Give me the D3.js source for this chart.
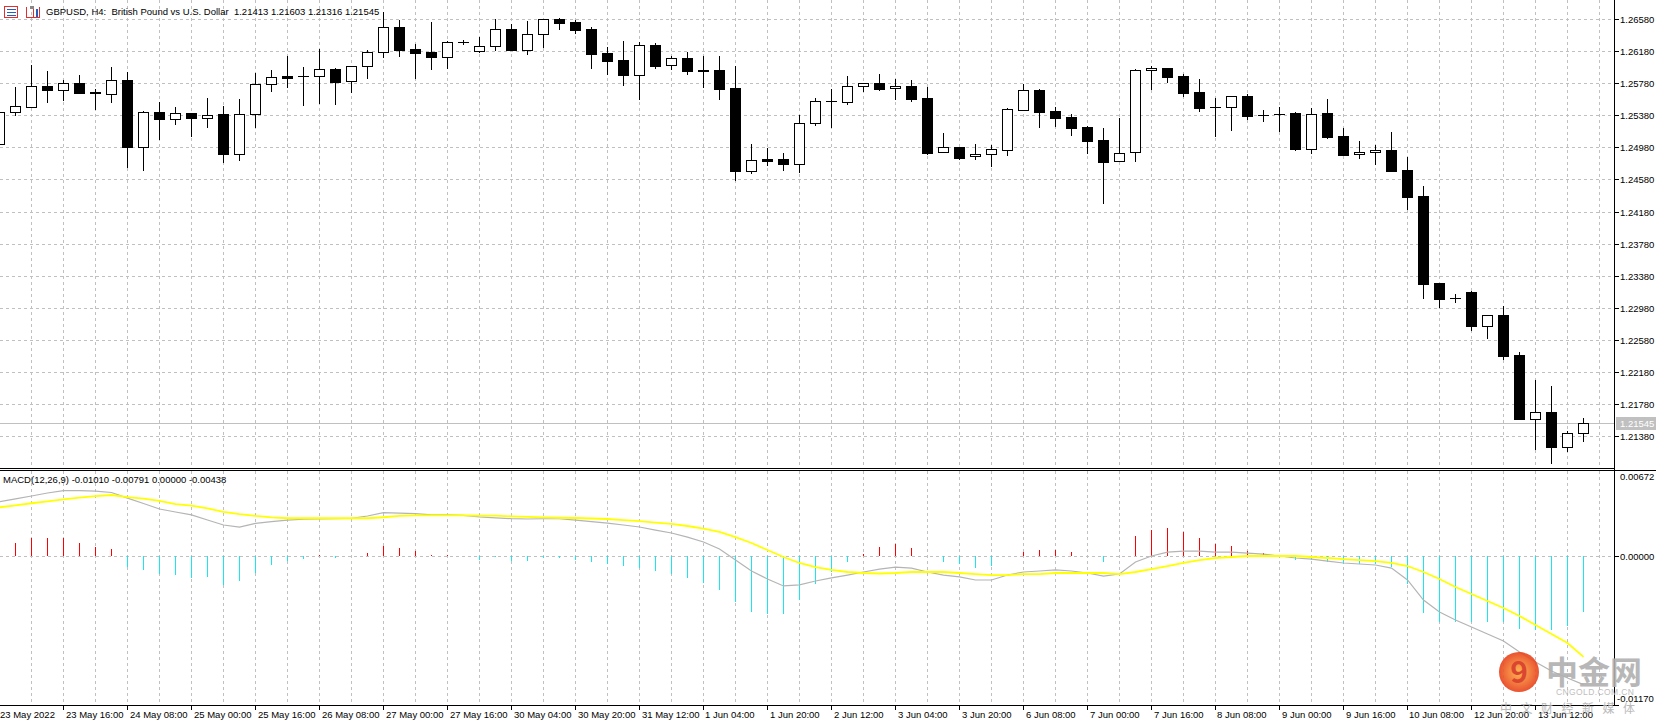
<!DOCTYPE html>
<html>
<head>
<meta charset="utf-8">
<title>GBPUSD, H4</title>
<script src="https://d3js.org/d3.v7.min.js"></script>
<style>
  body { margin: 0; background: #fff; }
  svg { display: block; font-family: "Liberation Sans", Arial, sans-serif; font-size: 9.5px; }
  .grid { stroke: #c0c0c0; stroke-dasharray: 3,3; shape-rendering: crispEdges; fill: none; }
  .axis { stroke: #000; shape-rendering: crispEdges; fill: none; }
</style>
</head>
<body>
<script>
// H4 bars, first one is 23 May 2022 00:00
var open = [1.25018,1.25417,1.25487,1.25741,1.25691,1.25778,1.25670,1.25641,1.25816,1.24980,
  1.25417,1.25329,1.25404,1.25342,1.25396,1.24901,1.25392,1.25766,1.25866,1.25866,
  1.25866,1.25953,1.25803,1.25990,1.26165,1.26477,1.26202,1.26165,1.26110,1.26290,
  1.26185,1.26240,1.26452,1.26194,1.26389,1.26580,1.26539,1.26455,1.26156,1.26069,
  1.25886,1.26256,1.26003,1.26094,1.25940,1.25944,1.25720,1.24689,1.24831,1.24834,
  1.24776,1.25280,1.25558,1.25549,1.25745,1.25778,1.25716,1.25745,1.25591,1.24918,
  1.24980,1.24868,1.24893,1.24943,1.25449,1.25695,1.25433,1.25358,1.25233,1.25071,
  1.24806,1.24918,1.25940,1.25965,1.25869,1.25670,1.25487,1.25487,1.25620,1.25387,
  1.25399,1.25408,1.24955,1.25408,1.25121,1.24893,1.24918,1.24947,1.24697,1.24373,
  1.23288,1.23105,1.23176,1.22756,1.22889,1.22391,1.21596,1.21680,1.21247,1.21413];
var high = [1.25427,1.25729,1.26007,1.25932,1.25820,1.25882,1.25704,1.25978,1.25923,1.25433,
  1.25545,1.25479,1.25412,1.25595,1.25495,1.25583,1.25911,1.25944,1.26119,1.25982,
  1.26206,1.25965,1.25990,1.26194,1.26664,1.26568,1.26268,1.26543,1.26306,1.26318,
  1.26356,1.26580,1.26518,1.26555,1.26580,1.26589,1.26568,1.26477,1.26231,1.26306,
  1.26297,1.26281,1.26123,1.26172,1.26119,1.26119,1.25994,1.25022,1.24972,1.24909,
  1.25383,1.25595,1.25707,1.25869,1.25778,1.25894,1.25832,1.25820,1.25732,1.25159,
  1.24980,1.25022,1.25009,1.25470,1.25773,1.25707,1.25483,1.25396,1.25246,1.25221,
  1.25346,1.25957,1.25994,1.25965,1.25894,1.25832,1.25591,1.25616,1.25645,1.25442,
  1.25483,1.25421,1.25467,1.25583,1.25225,1.25059,1.25005,1.25171,1.24863,1.24498,
  1.23288,1.23147,1.23189,1.22886,1.23002,1.22424,1.22079,1.22004,1.21443,1.21603];
var low = [1.25009,1.25387,1.25487,1.25549,1.25570,1.25654,1.25458,1.25549,1.24738,1.24701,
  1.25088,1.25267,1.25121,1.25233,1.24801,1.24826,1.25230,1.25686,1.25736,1.25508,
  1.25536,1.25524,1.25674,1.25848,1.26110,1.26123,1.25848,1.25960,1.25973,1.26272,
  1.26165,1.26194,1.26194,1.26147,1.26235,1.26459,1.26409,1.25973,1.25898,1.25761,
  1.25586,1.25969,1.25960,1.25898,1.25736,1.25586,1.24573,1.24664,1.24763,1.24701,
  1.24676,1.25262,1.25233,1.25524,1.25682,1.25699,1.25586,1.25561,1.24901,1.24918,
  1.24838,1.24838,1.24751,1.24888,1.25442,1.25233,1.25246,1.25134,1.24913,1.24290,
  1.24806,1.24813,1.25711,1.25798,1.25620,1.25433,1.25125,1.25196,1.25337,1.25312,
  1.25187,1.24950,1.24913,1.25093,1.24888,1.24851,1.24772,1.24689,1.24211,1.23105,
  1.22989,1.23055,1.22702,1.22606,1.22341,1.21596,1.21222,1.21048,1.21194,1.21316];
var close = [1.25417,1.25492,1.25741,1.25691,1.25778,1.25661,1.25654,1.25816,1.24980,1.25417,
  1.25329,1.25404,1.25342,1.25387,1.24901,1.25392,1.25766,1.25853,1.25848,1.25864,
  1.25953,1.25798,1.25990,1.26165,1.26477,1.26197,1.26160,1.26110,1.26290,1.26288,
  1.26240,1.26452,1.26194,1.26389,1.26580,1.26534,1.26447,1.26147,1.26060,1.25886,
  1.26252,1.25998,1.26090,1.25935,1.25938,1.25711,1.24689,1.24818,1.24813,1.24776,
  1.25280,1.25558,1.25560,1.25745,1.25778,1.25711,1.25741,1.25586,1.24913,1.24980,
  1.24851,1.24893,1.24955,1.25454,1.25691,1.25424,1.25349,1.25225,1.25063,1.24801,
  1.24906,1.25940,1.25965,1.25861,1.25661,1.25474,1.25485,1.25616,1.25374,1.25385,
  1.25397,1.24959,1.25392,1.25109,1.24888,1.24918,1.24947,1.24689,1.24364,1.23280,
  1.23093,1.23103,1.22752,1.22886,1.22382,1.21596,1.21680,1.21247,1.21414,1.21545];

// MACD(12,26,9): gray line, yellow line, histogram
var macdMain = [0.00430,0.00452,0.00475,0.00499,0.00517,0.00517,0.00514,0.00503,0.00459,0.00416,
  0.00373,0.00349,0.00326,0.00286,0.00247,0.00231,0.00259,0.00274,0.00286,0.00292,
  0.00294,0.00296,0.00299,0.00318,0.00344,0.00341,0.00337,0.00327,0.00326,0.00323,
  0.00311,0.00303,0.00297,0.00294,0.00296,0.00296,0.00286,0.00274,0.00262,0.00247,
  0.00231,0.00207,0.00184,0.00152,0.00113,0.00058,-0.00029,-0.00115,-0.00178,-0.00233,
  -0.00225,-0.00194,-0.00170,-0.00147,-0.00123,-0.00100,-0.00084,-0.00092,-0.00123,-0.00147,
  -0.00162,-0.00186,-0.00186,-0.00147,-0.00123,-0.00115,-0.00107,-0.00115,-0.00131,-0.00155,
  -0.00139,-0.00044,0.00003,0.00034,0.00042,0.00042,0.00034,0.00034,0.00026,0.00018,
  0.00003,-0.00013,-0.00021,-0.00037,-0.00052,-0.00060,-0.00068,-0.00092,-0.00186,-0.00344,
  -0.00438,-0.00501,-0.00556,-0.00611,-0.00666,-0.00753,-0.00831,-0.00902,-0.00957,-0.01010];
var macdSignal = [0.00386,0.00402,0.00418,0.00433,0.00449,0.00462,0.00475,0.00483,0.00467,0.00455,
  0.00436,0.00412,0.00400,0.00377,0.00351,0.00333,0.00318,0.00307,0.00300,0.00300,
  0.00300,0.00300,0.00300,0.00300,0.00308,0.00318,0.00322,0.00323,0.00323,0.00322,
  0.00321,0.00320,0.00315,0.00311,0.00307,0.00304,0.00302,0.00298,0.00294,0.00286,
  0.00278,0.00266,0.00255,0.00239,0.00219,0.00192,0.00152,0.00105,0.00050,-0.00005,
  -0.00052,-0.00084,-0.00107,-0.00123,-0.00131,-0.00135,-0.00131,-0.00123,-0.00123,-0.00123,
  -0.00131,-0.00139,-0.00147,-0.00147,-0.00139,-0.00139,-0.00131,-0.00131,-0.00131,-0.00131,
  -0.00139,-0.00123,-0.00100,-0.00076,-0.00052,-0.00029,-0.00013,-0.00005,0.00003,0.00003,
  0.00003,0.00003,-0.00005,-0.00013,-0.00021,-0.00029,-0.00037,-0.00052,-0.00076,-0.00123,
  -0.00178,-0.00241,-0.00296,-0.00351,-0.00406,-0.00469,-0.00540,-0.00611,-0.00682,-0.00791];
var macdHist = [0.00088,0.00108,0.00144,0.00144,0.00144,0.00108,0.00076,0.00057,-0.00081,-0.00108,
  -0.00139,-0.00147,-0.00173,-0.00165,-0.00226,-0.00194,-0.00134,-0.00068,-0.00037,-0.00021,
  0.00010,-0.00010,0.00000,0.00026,0.00081,0.00065,0.00045,0.00010,0.00008,0.00000,
  -0.00029,-0.00005,-0.00034,-0.00037,-0.00010,-0.00010,-0.00032,-0.00048,-0.00064,-0.00078,
  -0.00094,-0.00118,-0.00142,-0.00174,-0.00212,-0.00268,-0.00362,-0.00440,-0.00456,-0.00456,
  -0.00346,-0.00220,-0.00126,-0.00048,0.00016,0.00070,0.00094,0.00062,0.00000,-0.00048,
  -0.00062,-0.00094,-0.00078,0.00000,0.00032,0.00048,0.00048,0.00032,0.00000,-0.00048,
  0.00000,0.00158,0.00206,0.00220,0.00188,0.00142,0.00094,0.00078,0.00046,0.00030,
  0.00000,-0.00032,-0.00032,-0.00048,-0.00062,-0.00062,-0.00062,-0.00080,-0.00220,-0.00442,
  -0.00520,-0.00520,-0.00520,-0.00520,-0.00520,-0.00568,-0.00582,-0.00582,-0.00550,-0.00438];

var priceTicks = [1.26580,1.26180,1.25780,1.25380,1.24980,1.24580,1.24180,
  1.23780,1.23380,1.22980,1.22580,1.22180,1.21780,1.21380];
var macdTicks = [0.00672, 0.00000, -0.01170];
var timeLabels = ["23 May 2022","23 May 16:00","24 May 08:00","25 May 00:00","25 May 16:00",
  "26 May 08:00","27 May 00:00","27 May 16:00","30 May 04:00","30 May 20:00","31 May 12:00",
  "1 Jun 04:00","1 Jun 20:00","2 Jun 12:00","3 Jun 04:00","3 Jun 20:00","6 Jun 08:00",
  "7 Jun 00:00","7 Jun 16:00","8 Jun 08:00","9 Jun 00:00","9 Jun 16:00","10 Jun 08:00",
  "12 Jun 20:00","13 Jun 12:00"];
var lastPrice = 1.21545;
var title = "GBPUSD, H4:  British Pound vs U.S. Dollar  1.21413 1.21603 1.21316 1.21545";
var macdTitle = "MACD(12,26,9) -0.01010 -0.00791 0.00000 -0.00438";

// layout
var W = 1656, H = 723;
var axisX = 1614;                 // price scale line
var mainBottom = 468;
var macdTop = 471, macdBottom = 705;

var n = open.length;
var x = d3.scaleLinear().domain([0, n - 1]).range([-0.5, 16 * (n - 1) - 0.5]);
var y = d3.scaleLinear().domain([1.20982, 1.26817]).range([mainBottom, 0]);
var ym = d3.scaleLinear().domain([-0.01170, 0.00672]).range([macdBottom, macdTop]);

function px(v) { return Math.round(v) + 0.5; }   // crisp 1px lines

var svg = d3.select("body").append("svg").attr("width", W).attr("height", H);

// ---- grid ----
var gridG = svg.append("g");
var gridIdx = d3.range(2, n + 1, 2);
gridG.selectAll(".vg").data(gridIdx).enter().append("path")
  .attr("class", "grid")
  .attr("d", function(i) {
    var xx = px(x(i) - 0.5);
    return "M" + xx + ",0V" + mainBottom + "M" + xx + "," + macdTop + "V" + macdBottom;
  });
gridG.selectAll(".hg").data(priceTicks).enter().append("path")
  .attr("class", "grid")
  .attr("d", function(p) { return "M0," + px(y(p)) + "H" + axisX; });
gridG.append("path").attr("class", "grid")
  .attr("d", "M0," + px(ym(0)) + "H" + axisX);

// current price line
svg.append("path")
  .attr("d", "M0," + px(y(lastPrice)) + "H" + axisX)
  .attr("stroke", "#c0c0c0").attr("shape-rendering", "crispEdges");

// ---- candles ----
var idx = d3.range(n);
var cg = svg.append("g").attr("shape-rendering", "crispEdges");
cg.selectAll(".wick").data(idx).enter().append("path")
  .attr("stroke", "#000")
  .attr("d", function(i) {
    var xx = px(x(i) - 0.5);
    return "M" + xx + "," + Math.round(y(high[i])) + "V" + (Math.round(y(low[i])) + 1);
  });
cg.selectAll(".body").data(idx).enter().append("path")
  .attr("stroke", "#000")
  .attr("fill", function(i) { return close[i] >= open[i] ? "#fff" : "#000"; })
  .attr("d", function(i) {
    var c = Math.round(x(i) - 0.5);
    var t = px(y(Math.max(open[i], close[i])));
    var b = px(y(Math.min(open[i], close[i])));
    var l = c - 5 + 0.5, r = c + 5 + 0.5;
    if (b - t < 1) return "M" + (l - 0.5) + "," + t + "H" + (r + 0.5);
    return "M" + l + "," + t + "H" + r + "V" + b + "H" + l + "Z";
  });

// ---- MACD ----
var mg = svg.append("g");
mg.selectAll(".hist").data(idx).enter().append("path")
  .attr("shape-rendering", "crispEdges")
  .attr("stroke", function(i) { return macdHist[i] >= 0 ? "#ff0000" : "#19e6ee"; })
  .attr("d", function(i) {
    var xx = px(x(i) - 0.5);
    return "M" + xx + "," + Math.round(ym(0)) + "V" + Math.round(ym(macdHist[i]));
  });
var line = d3.line().x(function(d, i) { return x(i); });
mg.append("path")
  .attr("fill", "none").attr("stroke", "#b4b4b4").attr("stroke-width", 1.2)
  .attr("d", line.y(function(d) { return ym(d); })(macdMain));
mg.append("path")
  .attr("fill", "none").attr("stroke", "#ffff00").attr("stroke-width", 1.8)
  .attr("d", line.y(function(d) { return ym(d); })(macdSignal));

// ---- frame / axes ----
var ax = svg.append("g").attr("class", "axis");
ax.append("path").attr("d", "M" + (axisX + 0.5) + ",0V" + (macdBottom + 1));
ax.append("path").attr("d", "M0," + (mainBottom + 0.5) + "H" + (axisX + 1));
ax.append("path").attr("d", "M0," + (macdTop - 0.5) + "H" + W);
ax.append("path").attr("d", "M0," + (macdBottom + 0.5) + "H" + (axisX + 1));

// price scale
ax.selectAll(".pt").data(priceTicks).enter().append("path")
  .attr("d", function(p) { return "M" + axisX + "," + px(y(p)) + "H" + (axisX + 5); });
svg.selectAll(".pl").data(priceTicks).enter().append("text")
  .attr("x", axisX + 6).attr("y", function(p) { return Math.round(y(p)) + 3.5; })
  .text(function(p) { return p.toFixed(5); });

// last price tag
svg.append("rect").attr("x", axisX + 2).attr("y", Math.round(y(lastPrice)) - 6)
  .attr("width", W - axisX - 2).attr("height", 13).attr("fill", "#c0c0c0");
svg.append("text").attr("x", axisX + 6).attr("y", Math.round(y(lastPrice)) + 3.5)
  .attr("fill", "#fff").text(lastPrice.toFixed(5));

// MACD scale
ax.selectAll(".mt").data([0, -0.01170]).enter().append("path")
  .attr("d", function(v) { return "M" + axisX + "," + px(ym(v)) + "H" + (axisX + 5); });
svg.selectAll(".ml").data(macdTicks).enter().append("text")
  .attr("x", function(v) { return v < 0 ? axisX + 3 : axisX + 6; })
  .attr("y", function(v, i) {
    if (i == 0) return macdTop + 9;
    if (i == 2) return macdBottom - 3;
    return Math.round(ym(v)) + 3.5;
  })
  .text(function(v) { return v.toFixed(5); });

// time scale
ax.selectAll(".tt").data(timeLabels).enter().append("path")
  .attr("d", function(d, k) { var xx = px(x(k * 4) - 0.5); return "M" + xx + "," + macdBottom + "V" + (macdBottom + 5); });
svg.selectAll(".tl").data(timeLabels).enter().append("text")
  .attr("x", function(d, k) { return k == 0 ? 0 : Math.round(x(k * 4)) + 2; })
  .attr("y", macdBottom + 13)
  .text(function(d) { return d; });

// titles
svg.append("text").attr("x", 46).attr("y", 15).attr("xml:space", "preserve")
  .style("white-space", "pre").text(title);
svg.append("text").attr("x", 3).attr("y", macdTop + 12).text(macdTitle);

// small header icons
var ic = svg.append("g").attr("shape-rendering", "crispEdges");
ic.append("rect").attr("x", 4.5).attr("y", 6.5).attr("width", 13).attr("height", 11)
  .attr("fill", "#fff").attr("stroke", "#e03030");
[9.5, 12.5, 15.5].forEach(function(yy) {
  ic.append("path").attr("d", "M7," + yy + "H16").attr("stroke", "#2060c0");
});
ic.append("path").attr("d", "M26.5,6.5V17.5H39.5V6.5M33.5,6.5V17.5").attr("fill", "none").attr("stroke", "#e03030");
ic.append("rect").attr("x", 29.5).attr("y", 5.5).attr("width", 4).attr("height", 3).attr("fill", "#888");
ic.append("path").attr("d", "M36.5,9V17").attr("stroke", "#2060c0").attr("stroke-width", 2);

// watermark (site logo drawn over the chart)
var wm = svg.append("g").attr("opacity", 0.9);
var grad = svg.append("defs").append("radialGradient").attr("id", "lg");
grad.append("stop").attr("offset", "0%").attr("stop-color", "#ffb040");
grad.append("stop").attr("offset", "100%").attr("stop-color", "#e8401c");
wm.append("circle").attr("cx", 1519).attr("cy", 672).attr("r", 20).attr("fill", "url(#lg)");
wm.append("text").attr("x", 1519).attr("y", 683).attr("text-anchor", "middle")
  .attr("font-size", 30).attr("font-weight", "bold").attr("fill", "#d8321a")
  .attr("font-family", "Noto Sans CJK SC").text("9");
wm.append("text").attr("x", 1546).attr("y", 684)
  .attr("font-family", "Noto Sans CJK SC").attr("font-weight", "bold")
  .attr("font-size", 32).attr("fill", "#b0b0b0").text("中金网");
wm.append("text").attr("x", 1556).attr("y", 695).attr("font-size", 8.5)
  .attr("fill", "#b8b8b8").attr("letter-spacing", 0.4).text("CNGOLD.COM.CN");
wm.append("text").attr("x", 1500).attr("y", 713).attr("font-size", 12)
  .attr("font-family", "Noto Sans CJK SC").attr("letter-spacing", 8.5)
  .attr("fill", "#b4b4b4").text("中文财经新媒体");
</script>
</body>
</html>
